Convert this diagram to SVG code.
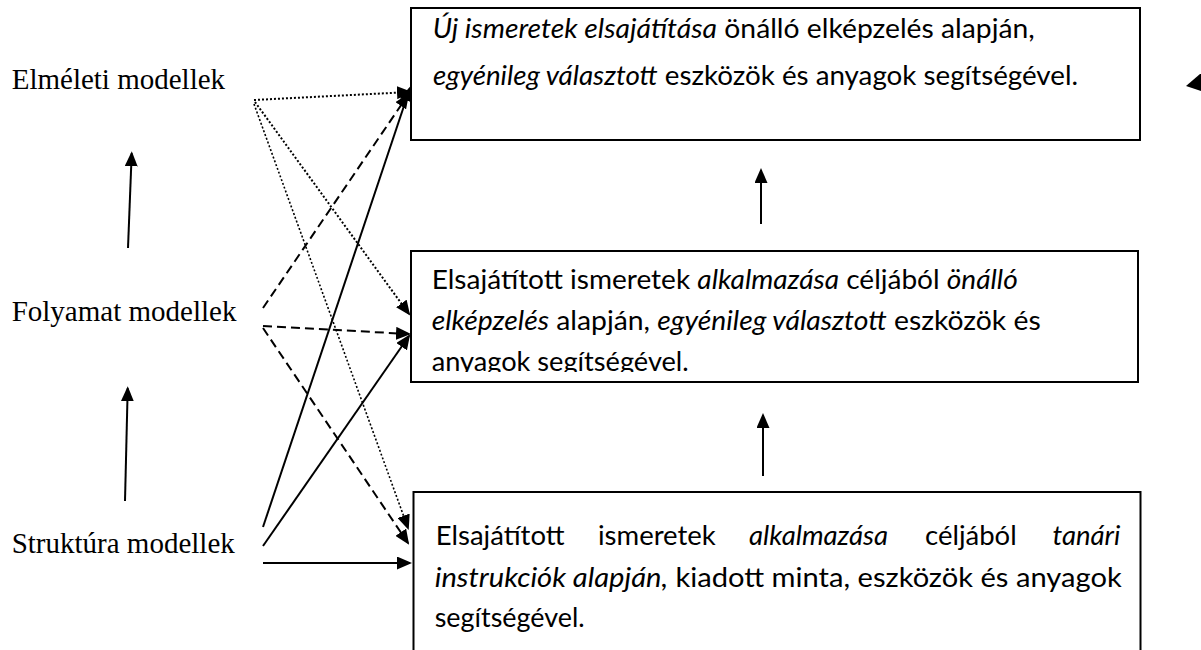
<svg xmlns="http://www.w3.org/2000/svg" width="1201" height="650" viewBox="0 0 1201 650">
<defs>
<style>
.lbl{font-family:"Liberation Serif","Times New Roman",serif;font-size:29px;fill:#000}
.bt{font-family:Lato,"Open Sans",sans-serif;font-size:27.5px;fill:#000}
.it{font-style:italic}
.box{fill:#fff;stroke:#000;stroke-width:2}
.c{fill:none;stroke:#000;stroke-width:2}
.thin{stroke-width:1.6}
.dot{stroke-dasharray:2 2}
.dash{stroke-dasharray:9 5}
</style>
<marker id="ah" viewBox="0 0 15 13" refX="13" refY="6.5" markerWidth="15" markerHeight="13" markerUnits="userSpaceOnUse" orient="auto"><path d="M0,0 L15,6.5 L0,13 z" fill="#000"/></marker>
<clipPath id="clip2"><rect x="411" y="251" width="727" height="121"/></clipPath>
</defs>
<rect width="1201" height="650" fill="#fff"/>

<g id="label-elmeleti"><text class="lbl" x="11.7" y="89.3">Elméleti modellek</text></g>
<g id="label-folyamat"><text class="lbl" x="11.7" y="320.7">Folyamat modellek</text></g>
<g id="label-struktura"><text class="lbl" x="11.7" y="553.3">Struktúra modellek</text></g>

<g id="box1">
<rect class="box" x="411" y="8" width="729" height="132"/>
<text class="bt" x="432.7" y="37.7" textLength="602" lengthAdjust="spacingAndGlyphs"><tspan class="it">Új ismeretek elsajátítása</tspan> önálló elképzelés alapján,</text>
<text class="bt" x="433" y="85" textLength="645" lengthAdjust="spacingAndGlyphs"><tspan class="it">egyénileg választott</tspan> eszközök és anyagok segítségével.</text>
</g>

<g id="box2">
<rect class="box" x="411" y="251" width="727" height="131"/>
<g clip-path="url(#clip2)">
<text class="bt" x="431.7" y="289" textLength="586" lengthAdjust="spacingAndGlyphs">Elsajátított ismeretek <tspan class="it">alkalmazása</tspan> céljából <tspan class="it">önálló</tspan></text>
<text class="bt" x="431.7" y="330" textLength="609" lengthAdjust="spacingAndGlyphs"><tspan class="it">elképzelés</tspan> alapján, <tspan class="it">egyénileg választott</tspan> eszközök és</text>
<text class="bt" x="431.7" y="370.7" textLength="257" lengthAdjust="spacingAndGlyphs">anyagok segítségével.</text>
</g>
</g>

<g id="box3">
<rect class="box" x="413.5" y="492" width="727" height="200"/>
<text class="bt" y="545"><tspan x="435.8">Elsajátított</tspan><tspan x="598">ismeretek</tspan><tspan x="749" class="it">alkalmazása</tspan><tspan x="925">céljából</tspan></text>
<text class="bt it" x="1120.3" y="545" text-anchor="end">tanári</text>
<text class="bt" x="434.7" y="586.7" textLength="687" lengthAdjust="spacingAndGlyphs"><tspan class="it">instrukciók alapján,</tspan> kiadott minta, eszközök és anyagok</text>
<text class="bt" x="434.7" y="626.7" textLength="150" lengthAdjust="spacingAndGlyphs">segítségével.</text>
</g>

<g id="connectors">
<path class="c dot" d="M254,100 L410,92" marker-end="url(#ah)"/>
<path class="c dot" d="M255,102 L409,314" marker-end="url(#ah)"/>
<path class="c dot thin" d="M254,104 L408,528" marker-end="url(#ah)"/>
<path class="c dash" d="M263,308 L408,95" marker-end="url(#ah)"/>
<path class="c dash" d="M263,326 L409,334" marker-end="url(#ah)"/>
<path class="c dash" d="M263,328 L408,543" marker-end="url(#ah)"/>
<path class="c" d="M263,527 L410,88" marker-end="url(#ah)"/>
<path class="c" d="M263,546 L409,336" marker-end="url(#ah)"/>
<path class="c" d="M263,563 L410,563" marker-end="url(#ah)"/>
<path class="c" d="M128,248 L131.7,153.3" marker-end="url(#ah)"/>
<path class="c" d="M125,501 L127.7,388.3" marker-end="url(#ah)"/>
<path class="c" d="M761,224 L761,170" marker-end="url(#ah)"/>
<path class="c" d="M763,476 L763,415" marker-end="url(#ah)"/>
<polygon points="1186,86 1200,74 1201,74 1201,91" fill="#000"/>
</g>
</svg>
